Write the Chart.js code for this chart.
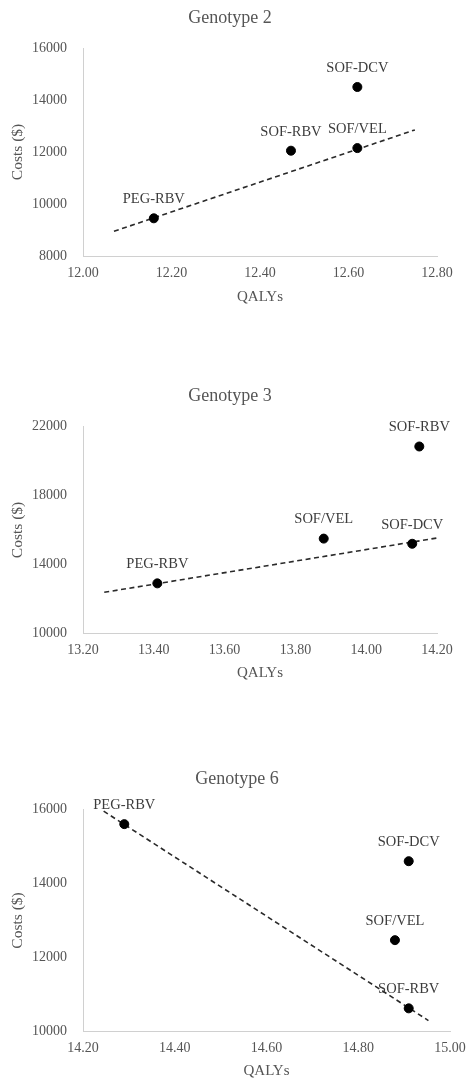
<!DOCTYPE html>
<html>
<head>
<meta charset="utf-8">
<script src="https://cdn.jsdelivr.net/npm/chart.js@4.4.1/dist/chart.umd.min.js"></script>
<style>
  html, body { margin: 0; padding: 0; background: #fff; width: 468px; height: 1080px; overflow: hidden; }
  canvas { position: absolute; left: 0; }
</style>
</head>
<body>
<canvas id="c1" width="468" height="320" style="top:0px"></canvas>
<canvas id="c2" width="468" height="330" style="top:360px"></canvas>
<canvas id="c3" width="468" height="330" style="top:750px"></canvas>
<script>
// ---- Genotype 2 ----
const g2Labels = ['PEG-RBV', 'SOF-RBV', 'SOF/VEL', 'SOF-DCV'];
const g2Qalys = [12.16, 12.47, 12.62, 12.62];
const g2Costs = [9450, 12050, 12150, 14500];
const g2TrendQalys = [12.07, 12.75];
const g2TrendCosts = [8950, 12850];
const g2XTicks = [12.0, 12.2, 12.4, 12.6, 12.8];
const g2YTicks = [8000, 10000, 12000, 14000, 16000];

// ---- Genotype 3 ----
const g3Labels = ['PEG-RBV', 'SOF/VEL', 'SOF-DCV', 'SOF-RBV'];
const g3Qalys = [13.41, 13.88, 14.13, 14.15];
const g3Costs = [12900, 15500, 15200, 20850];
const g3TrendQalys = [13.26, 14.24];
const g3TrendCosts = [12380, 15670];
const g3XTicks = [13.2, 13.4, 13.6, 13.8, 14.0, 14.2];
const g3YTicks = [10000, 14000, 18000, 22000];

// ---- Genotype 6 ----
const g6Labels = ['PEG-RBV', 'SOF-DCV', 'SOF/VEL', 'SOF-RBV'];
const g6Qalys = [14.29, 14.91, 14.88, 14.91];
const g6Costs = [15600, 14600, 12470, 10630];
const g6TrendQalys = [14.245, 14.953];
const g6TrendCosts = [15950, 10300];
const g6XTicks = [14.2, 14.4, 14.6, 14.8, 15.0];
const g6YTicks = [10000, 12000, 14000, 16000];

const FONT = '"Liberation Serif", "Times New Roman", serif';
const TICK_COLOR = '#555555';
const LABEL_COLOR = '#3c3c3c';
const AXIS_COLOR = '#d0d0d0';

const pointLabelPlugin = {
  id: 'pointLabels',
  afterDatasetsDraw(chart) {
    const meta = chart.getDatasetMeta(0);
    const labels = chart.data.datasets[0].pointNames;
    const ctx = chart.ctx;
    ctx.save();
    ctx.font = '14.5px ' + FONT;
    ctx.fillStyle = LABEL_COLOR;
    ctx.textAlign = 'center';
    ctx.textBaseline = 'middle';
    meta.data.forEach((pt, i) => {
      ctx.fillText(labels[i], pt.x, pt.y - 19);
    });
    ctx.restore();
  }
};

const chartTitlePlugin = {
  id: 'chartTitle',
  afterDraw(chart, args, opts) {
    const ctx = chart.ctx;
    ctx.save();
    ctx.font = '18px ' + FONT;
    ctx.fillStyle = TICK_COLOR;
    ctx.textAlign = 'center';
    ctx.textBaseline = 'middle';
    ctx.fillText(opts.text, opts.x, opts.y);
    ctx.restore();
  }
};

function makeChart(id, cfg) {
  const pts = cfg.qalys.map((q, i) => ({ x: q, y: cfg.costs[i] }));
  const trend = cfg.trendQ.map((q, i) => ({ x: q, y: cfg.trendC[i] }));
  return new Chart(document.getElementById(id), {
    type: 'scatter',
    data: {
      datasets: [
        {
          data: pts,
          pointNames: cfg.labels,
          backgroundColor: '#000',
          borderColor: '#000',
          pointRadius: 4.5,
          pointHoverRadius: 4.5,
          showLine: false
        },
        {
          data: trend,
          showLine: true,
          borderColor: '#2a2a2a',
          borderWidth: 1.6,
          borderDash: [5, 3.5],
          pointRadius: 0,
          fill: false
        }
      ]
    },
    options: {
      responsive: false,
      maintainAspectRatio: false,
      animation: false,
      events: [],
      layout: { padding: { left: 0, right: cfg.padRight, top: cfg.areaTop, bottom: 0 } },
      plugins: {
        legend: { display: false },
        tooltip: { enabled: false },
        title: { display: false },
        chartTitle: { text: cfg.title, x: cfg.titleX, y: cfg.titleY }
      },
      scales: {
        x: {
          type: 'linear',
          min: cfg.xTicks[0],
          max: cfg.xTicks[cfg.xTicks.length - 1],
          afterBuildTicks: (scale) => { scale.ticks = cfg.xTicks.map(v => ({ value: v })); },
          afterFit: (scale) => { scale.height = cfg.xHeight; },
          grid: { display: true, drawOnChartArea: false, drawTicks: false },
          border: { display: true, color: AXIS_COLOR, width: 1 },
          ticks: {
            color: TICK_COLOR,
            font: { family: FONT, size: 14, lineHeight: 32 / 14 },
            padding: 1,
            maxRotation: 0,
            callback: (v) => Number(v).toFixed(2)
          },
          title: {
            display: true,
            text: 'QALYs',
            color: TICK_COLOR,
            font: { family: FONT, size: 15 },
            padding: { top: 0, bottom: cfg.xTitleBottom }
          }
        },
        y: {
          type: 'linear',
          min: cfg.yTicks[0],
          max: cfg.yTicks[cfg.yTicks.length - 1],
          afterBuildTicks: (scale) => { scale.ticks = cfg.yTicks.map(v => ({ value: v })); },
          afterFit: (scale) => { scale.width = 83; },
          grid: { display: true, drawOnChartArea: false, drawTicks: false },
          border: { display: true, color: AXIS_COLOR, width: 1 },
          ticks: {
            color: TICK_COLOR,
            font: { family: FONT, size: 14 },
            padding: 16,
            callback: (v) => String(v)
          },
          title: {
            display: true,
            text: 'Costs ($)',
            color: TICK_COLOR,
            font: { family: FONT, size: 15.5 },
            padding: { top: 9, bottom: 0 }
          }
        }
      }
    },
    plugins: [pointLabelPlugin, chartTitlePlugin]
  });
}

makeChart('c1', {
  title: 'Genotype 2', labels: g2Labels, qalys: g2Qalys, costs: g2Costs,
  trendQ: g2TrendQalys, trendC: g2TrendCosts, xTicks: g2XTicks, yTicks: g2YTicks,
  padRight: 31, areaTop: 48, titleX: 230, titleY: 18, xHeight: 64, xTitleBottom: 14.3
});
makeChart('c2', {
  title: 'Genotype 3', labels: g3Labels, qalys: g3Qalys, costs: g3Costs,
  trendQ: g3TrendQalys, trendC: g3TrendCosts, xTicks: g3XTicks, yTicks: g3YTicks,
  padRight: 31, areaTop: 66.7, titleX: 230, titleY: 36, xHeight: 56.7, xTitleBottom: 8
});
makeChart('c3', {
  title: 'Genotype 6', labels: g6Labels, qalys: g6Qalys, costs: g6Costs,
  trendQ: g6TrendQalys, trendC: g6TrendCosts, xTicks: g6XTicks, yTicks: g6YTicks,
  padRight: 18, areaTop: 59.3, titleX: 237, titleY: 29, xHeight: 48.3, xTitleBottom: 0
});
</script>
</body>
</html>
